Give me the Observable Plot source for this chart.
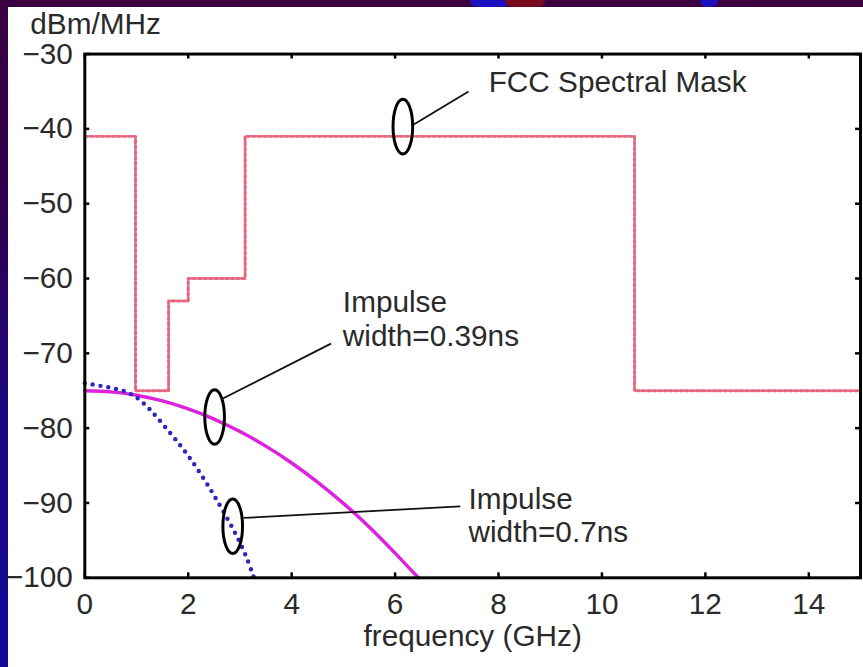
<!DOCTYPE html>
<html>
<head>
<meta charset="utf-8">
<script src="https://cdn.jsdelivr.net/npm/d3@7"></script>
<script src="https://cdn.jsdelivr.net/npm/@observablehq/plot@0.6"></script>
<style>
  html, body { margin: 0; padding: 0; width: 863px; height: 667px; overflow: hidden; }
  body { background: linear-gradient(to bottom, #3a0040 0%, #30004c 30%, #1c067e 60%, #14089a 100%); position: relative; }
  #paper { position: absolute; left: 8px; top: 7px; width: 855px; height: 660px; background: #ffffff; }
  #chart { position: absolute; left: 0; top: 0; }
  .blob { position: absolute; top: 0; height: 7px; }
</style>
</head>
<body>
<div class="blob" style="left:470px;width:40px;background:#1a10c0;border-radius:0 0 20px 20px"></div>
<div class="blob" style="left:505px;width:40px;background:#7a0a20;border-radius:0 0 20px 20px"></div>
<div class="blob" style="left:700px;width:18px;background:#1a10c0;border-radius:0 0 10px 10px"></div>
<div id="paper"></div>
<div id="chart"></div>
<script>
// Axis ticks
const xTicks = [0, 2, 4, 6, 8, 10, 12, 14];
const yTicks = [-30, -40, -50, -60, -70, -80, -90, -100];

// FCC spectral mask (step levels, dBm/MHz)
const maskFreq  = [0, 0.98, 1.62, 2.0, 3.1, 10.63, 15];
const maskLevel = [-41, -75, -63, -60, -41, -75, -75];

// Impulse width = 0.39 ns (magenta, solid)
const p039Freq  = [0, 0.5, 1, 1.5, 2, 2.5, 3, 3.5, 4, 4.5, 5, 5.5, 6, 6.45];
const p039Level = [-75, -75.15, -75.6, -76.36, -77.42, -78.78, -80.45, -82.4, -84.65, -87.2, -90.05, -93.2, -96.7, -100];

// Impulse width = 0.7 ns (blue, dotted)
const p07Freq  = [0, 0.5, 1, 1.5, 2, 2.5, 3, 3.27];
const p07Level = [-74, -74.6, -75.9, -79.4, -83.7, -89.0, -95.3, -100];

// Annotations
const noteText  = ["FCC Spectral Mask", "Impulse\nwidth=0.39ns", "Impulse\nwidth=0.7ns"];
const noteFreq  = [7.81, 4.99, 7.42];
const noteLevel = [-31.95, -61.35, -87.65];
const ellipseFreq  = [6.15, 2.51, 2.86];
const ellipseLevel = [-39.7, -78.5, -93.1];
const leadFromFreq  = [6.36, 2.65, 3.07];
const leadFromLevel = [-39.4, -76.1, -92.0];
const leadToFreq    = [7.42, 4.76, 7.26];
const leadToLevel   = [-35.0, -68.7, -90.45];

const mask = maskFreq.map((f, i) => ({f, v: maskLevel[i]}));
const p039 = p039Freq.map((f, i) => ({f, v: p039Level[i]}));
const p07 = p07Freq.map((f, i) => ({f, v: p07Level[i]}));
const notes = noteText.map((t, i) => ({t, f: noteFreq[i], v: noteLevel[i]}));
const ellipses = ellipseFreq.map((f, i) => ({f, v: ellipseLevel[i]}));
const leaders = leadFromFreq.map((f, i) => ({f1: f, v1: leadFromLevel[i], f2: leadToFreq[i], v2: leadToLevel[i]}));

const ellipseSymbol = {
  draw(ctx, size) {
    const ry = Math.sqrt(size / Math.PI), rx = ry * 0.36, k = 0.5523;
    ctx.moveTo(0, -ry);
    ctx.bezierCurveTo(rx * k, -ry, rx, -ry * k, rx, 0);
    ctx.bezierCurveTo(rx, ry * k, rx * k, ry, 0, ry);
    ctx.bezierCurveTo(-rx * k, ry, -rx, ry * k, -rx, 0);
    ctx.bezierCurveTo(-rx, -ry * k, -rx * k, -ry, 0, -ry);
    ctx.closePath();
  }
};

const W = 870, H = 667, mL = 85, mR = 3, mT = 54, mB = 85;
const plotW = W - mL - mR, plotH = H - mT - mB;
const tickLen = 5;
const font = "'Liberation Sans', Arial, Helvetica, sans-serif";

const chart = Plot.plot({
  width: W,
  height: H,
  marginLeft: mL,
  marginRight: mR,
  marginTop: mT,
  marginBottom: mB,
  style: {background: "transparent", fontFamily: font, fontSize: "30px", color: "#2a2a2a", overflow: "visible"},
  x: {domain: [0, 15]},
  y: {domain: [-100, -30]},
  marks: [
    Plot.axisX({ticks: xTicks, tickSize: 0, tickPadding: 15, label: null, tickFormat: d => String(d)}),
    Plot.axisY({ticks: yTicks, tickSize: 0, tickPadding: 12, label: null, tickFormat: d => d < 0 ? "\u2212" + Math.abs(d) : String(d)}),
    Plot.text(["dBm/MHz"], {frameAnchor: "top-left", dx: -55, dy: -30, textAnchor: "start", lineAnchor: "middle", fill: "#2a2a2a"}),
    Plot.text(["frequency (GHz)"], {frameAnchor: "bottom", dy: 59, lineAnchor: "middle", fill: "#2a2a2a"}),
    // mask
    Plot.line(mask, {x: "f", y: "v", curve: "step-after", stroke: "#e0405c", strokeWidth: 3, strokeDasharray: "3,2.5", strokeOpacity: 0.8}),
    // pulses
    Plot.line(p039, {x: "f", y: "v", curve: "natural", stroke: "#dd22dd", strokeWidth: 3.5}),
    Plot.line(p07, {x: "f", y: "v", curve: "natural", stroke: "#2a28b8", strokeWidth: 4.5, strokeDasharray: "0,8", strokeLinecap: "round"}),
    // annotations
    Plot.link(leaders, {x1: "f1", y1: "v1", x2: "f2", y2: "v2", stroke: "#111", strokeWidth: 1.8}),
    Plot.dot(ellipses, {x: "f", y: "v", r: 27.5, symbol: ellipseSymbol, stroke: "#000", strokeWidth: 3, fill: "none"}),
    Plot.text(notes, {x: "f", y: "v", text: "t", textAnchor: "start", lineAnchor: "top", lineHeight: 1.12, fill: "#2a2a2a"}),
    // frame and inward ticks
    Plot.frame({stroke: "#000", strokeWidth: 3}),
    Plot.tickX(xTicks, {x: d => d, insetBottom: plotH - tickLen, stroke: "#000", strokeWidth: 2.5}),
    Plot.tickX(xTicks, {x: d => d, insetTop: plotH - tickLen, stroke: "#000", strokeWidth: 2.5}),
    Plot.tickY(yTicks, {y: d => d, insetRight: plotW - tickLen, stroke: "#000", strokeWidth: 2.5}),
    Plot.tickY(yTicks, {y: d => d, insetLeft: plotW - tickLen, stroke: "#000", strokeWidth: 2.5})
  ]
});
document.getElementById("chart").appendChild(chart);
</script>
</body>
</html>
